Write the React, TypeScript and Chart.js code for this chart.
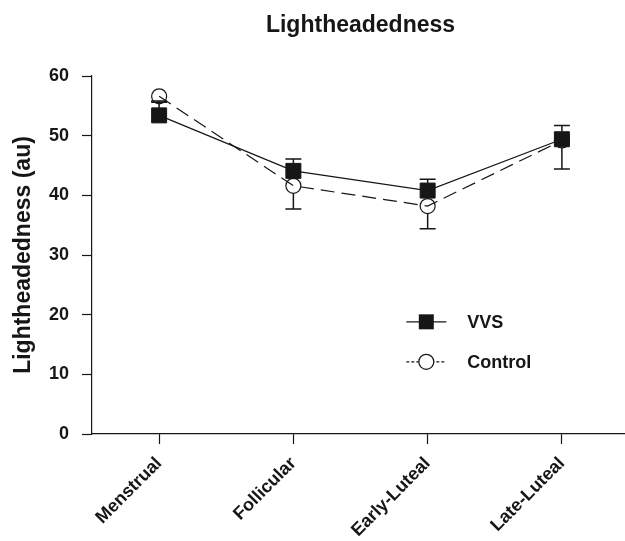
import React, { useEffect, useRef } from "react";
import { Chart, registerables } from "chart.js";
Chart.register(...registerables);

const chartTitle = "Lightheadedness";
const yAxisTitle = "Lightheadedness (au)";
const categories = ["Menstrual", "Follicular", "Early-Luteal", "Late-Luteal"];
const vvsMean = [53.4, 44.1, 40.8, 49.4];
const vvsErr = [2.4, 2.0, 1.9, 2.3];
const controlMean = [56.6, 41.6, 38.2, 49.2];
const controlErr = [1.0, 3.9, 3.8, 4.8];
const seriesNames = ["VVS", "Control"];
const yMin = 0;
const yMax = 60;
const yStep = 10;

const FONT = '"Liberation Sans", Arial, Helvetica, sans-serif';
const INK = "#161616";

const SQUARE_R = 10.6; // rect side = 1.414 * r
const CIRCLE_R = 7.5;

const errorBarPlugin = {
  id: "errorBars",
  afterDatasetsDraw(chart: any) {
    const { ctx, scales } = chart;
    const xs = scales.x;
    const ys = scales.y;
    const capHalf = 8;
    ctx.save();
    ctx.strokeStyle = INK;
    ctx.lineWidth = 1.5;
    // VVS: upper bars
    vvsMean.forEach((m, i) => {
      const x = xs.getPixelForValue(i);
      const y0 = ys.getPixelForValue(m);
      const y1 = ys.getPixelForValue(m + vvsErr[i]);
      const start = y0 - SQUARE_R * Math.SQRT1_2;
      if (y1 < start) {
        ctx.beginPath();
        ctx.moveTo(x, start);
        ctx.lineTo(x, y1);
        ctx.moveTo(x - capHalf, y1);
        ctx.lineTo(x + capHalf, y1);
        ctx.stroke();
      }
    });
    // Control: lower bars
    controlMean.forEach((m, i) => {
      const x = xs.getPixelForValue(i);
      const y0 = ys.getPixelForValue(m);
      const y1 = ys.getPixelForValue(m - controlErr[i]);
      const start = y0 + CIRCLE_R;
      ctx.beginPath();
      if (y1 > start) {
        ctx.moveTo(x, start);
        ctx.lineTo(x, y1);
      }
      ctx.moveTo(x - capHalf, y1);
      ctx.lineTo(x + capHalf, y1);
      ctx.stroke();
    });
    ctx.restore();
  },
};

const decorPlugin = {
  id: "decor",
  afterDraw(chart: any) {
    const { ctx, chartArea, scales } = chart;
    ctx.save();
    // title
    ctx.fillStyle = INK;
    ctx.font = `bold 23px ${FONT}`;
    ctx.textAlign = "center";
    ctx.textBaseline = "middle";
    ctx.fillText(chartTitle, (chartArea.left + chartArea.right) / 2 + 2, 26);

    // legend
    const lx = scales.x.getPixelForValue(1.99);
    const rows = [18.8, 12.1];
    rows.forEach((v, k) => {
      const ly = scales.y.getPixelForValue(v);
      ctx.strokeStyle = INK;
      ctx.lineWidth = 1.2;
      ctx.setLineDash(k === 0 ? [] : [3, 2]);
      ctx.beginPath();
      ctx.moveTo(lx - 20, ly);
      ctx.lineTo(lx + 20, ly);
      ctx.stroke();
      ctx.setLineDash([]);
      if (k === 0) {
        const s = SQUARE_R * Math.SQRT1_2;
        ctx.fillStyle = INK;
        ctx.fillRect(lx - s, ly - s, 2 * s, 2 * s);
      } else {
        ctx.fillStyle = "#ffffff";
        ctx.beginPath();
        ctx.arc(lx, ly, CIRCLE_R, 0, Math.PI * 2);
        ctx.fill();
        ctx.stroke();
      }
      ctx.fillStyle = INK;
      ctx.font = `bold 18px ${FONT}`;
      ctx.textAlign = "left";
      ctx.textBaseline = "middle";
      ctx.fillText(seriesNames[k], lx + 41, ly + 1);
    });
    ctx.restore();
  },
};

export default function App() {
  const ref = useRef<HTMLCanvasElement | null>(null);
  useEffect(() => {
    if (!ref.current) return;
    Chart.defaults.font.family = FONT;
    const chart = new Chart(ref.current, {
      type: "line",
      data: {
        datasets: [
          {
            label: seriesNames[0],
            data: vvsMean.map((v, i) => ({ x: i, y: v })),
            borderColor: INK,
            borderWidth: 1.2,
            pointStyle: "rect",
            pointRadius: SQUARE_R,
            pointBackgroundColor: INK,
            pointBorderColor: INK,
            pointBorderWidth: 1,
            tension: 0,
            fill: false,
          },
          {
            label: seriesNames[1],
            data: controlMean.map((v, i) => ({ x: i, y: v })),
            borderColor: INK,
            borderWidth: 1.2,
            borderDash: [14, 7],
            pointStyle: "circle",
            pointRadius: CIRCLE_R,
            pointBackgroundColor: "rgba(0,0,0,0)",
            pointBorderColor: INK,
            pointBorderWidth: 1.2,
            tension: 0,
            fill: false,
          },
        ],
      },
      options: {
        animation: false,
        responsive: false,
        devicePixelRatio: 1,
        layout: { autoPadding: false, padding: { top: 76, right: 0, left: 0, bottom: 0 } },
        plugins: {
          legend: { display: false },
          title: { display: false },
          tooltip: { enabled: false },
        },
        scales: {
          x: {
            type: "linear",
            min: -0.5,
            max: 3.47,
            afterBuildTicks: (scale: any) => {
              scale.ticks = categories.map((_, i) => ({ value: i }));
            },
            afterFit: (scale: any) => {
              scale.height = 107;
              scale.paddingRight = 0;
              scale.paddingLeft = 0;
            },
            ticks: {
              autoSkip: false,
              minRotation: 45,
              maxRotation: 45,
              padding: 9,
              color: INK,
              font: { size: 18, weight: "bold", family: FONT },
              callback: (v: any) => categories[Math.round(Number(v))] ?? "",
            },
            grid: {
              drawOnChartArea: false,
              drawTicks: true,
              tickLength: 10,
              tickColor: INK,
              tickWidth: 1.2,
            },
            border: { display: true, color: INK, width: 1.2 },
          },
          y: {
            min: yMin,
            max: yMax,
            afterFit: (scale: any) => {
              scale.width = 92;
              scale.paddingTop = 0;
              scale.paddingBottom = 0;
            },
            ticks: {
              stepSize: yStep,
              padding: 13,
              color: INK,
              font: { size: 18, weight: "bold", family: FONT },
            },
            title: {
              display: true,
              text: yAxisTitle,
              color: INK,
              font: { size: 23, weight: "bold", family: FONT },
              padding: { top: 10, bottom: 0 },
            },
            grid: {
              drawOnChartArea: false,
              drawTicks: true,
              tickLength: 10,
              tickColor: INK,
              tickWidth: 1.2,
            },
            border: { display: true, color: INK, width: 1.2 },
          },
        },
      } as any,
      plugins: [errorBarPlugin, decorPlugin],
    });
    return () => chart.destroy();
  }, []);
  return (
    <canvas
      ref={ref}
      width={625}
      height={541}
      style={{ position: "absolute", left: 0, top: 0, width: 625, height: 541, display: "block" }}
    />
  );
}
